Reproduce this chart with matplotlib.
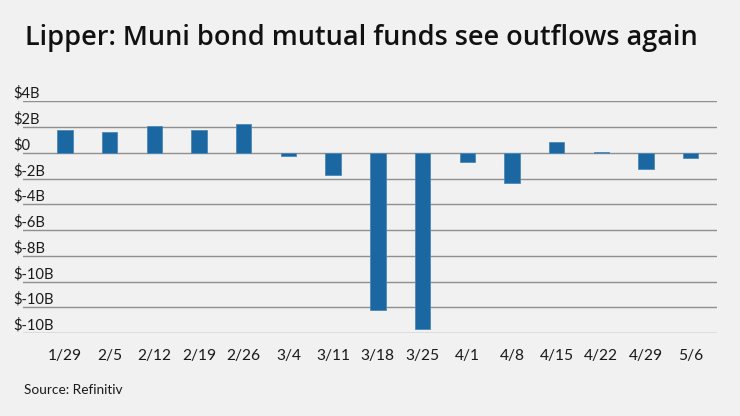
import matplotlib
matplotlib.use("Agg")
import matplotlib.pyplot as plt
import matplotlib.transforms as mtransforms

dates = ["1/29", "2/5", "2/12", "2/19", "2/26", "3/4", "3/11", "3/18", "3/25",
         "4/1", "4/8", "4/15", "4/22", "4/29", "5/6"]
flows_b = [1.79, 1.61, 2.10, 1.74, 2.26, -0.26, -1.76, -12.19, -13.67,
           -0.73, -2.31, 0.83, 0.08, -1.25, -0.42]
ytick_vals = [4, 2, 0, -2, -4, -6, -8, -10, -12, -14]
ytick_labels = ["$4B", "$2B", "$0", "$-2B", "$-4B", "$-6B", "$-8B",
                "$-10B", "$-10B", "$-10B"]

BG = "#f0f1f0"
BAR = "#1b67a1"
GRID = "#8f8f8f"
TXT = "#1a1a1a"
FONT = ["Lato", "DejaVu Sans"]

plt.rcParams["font.family"] = FONT

W, H = 740, 416
fig = plt.figure(figsize=(W / 100, H / 100), dpi=100, facecolor=BG)
ax_left, ax_right = 23.3, 716.7
ax_top, ax_bot = 101.3, 333.0
ax = fig.add_axes([ax_left / W, 1 - ax_bot / H, (ax_right - ax_left) / W,
                   (ax_bot - ax_top) / H])
ax.set_facecolor(BG)

x = list(range(len(dates)))
ax.bar(x, flows_b, width=0.345, color=BAR, edgecolor="#4f88b8",
       linewidth=0.6, zorder=3)

ax.set_xlim(-0.93, 14.58)
ax.set_ylim(-14, 4)
ax.set_yticks(ytick_vals)
ax.set_yticklabels([])
ax.tick_params(axis="y", length=0)
ax.grid(axis="y", color=GRID, linewidth=1.0, zorder=1)
for s in ax.spines.values():
    s.set_visible(False)

ax.set_xticks(x)
ax.set_xticklabels(dates, fontsize=11.2, color=TXT)
ax.tick_params(axis="x", length=0, pad=11.5)

trans = mtransforms.blended_transform_factory(fig.transFigure, ax.transData)
off = mtransforms.ScaledTranslation(0, 3.5 / 100, fig.dpi_scale_trans)
for v, lab in zip(ytick_vals, ytick_labels):
    ax.text(13.3 / W, v, lab, transform=trans + off, ha="left", va="baseline",
            fontsize=10.6, color=TXT, clip_on=False)

fig.text(25 / W, 1 - 45 / H, "Lipper: Muni bond mutual funds see outflows again",
         fontsize=19.5, fontweight="semibold", color="#111111", ha="left",
         va="baseline", family=["Open Sans", "DejaVu Sans"])
fig.text(24 / W, 1 - 394 / H, "Source: Refinitiv", fontsize=9.8, color=TXT,
         ha="left", va="baseline")

fig.savefig("out.png", dpi=100, facecolor=BG)
